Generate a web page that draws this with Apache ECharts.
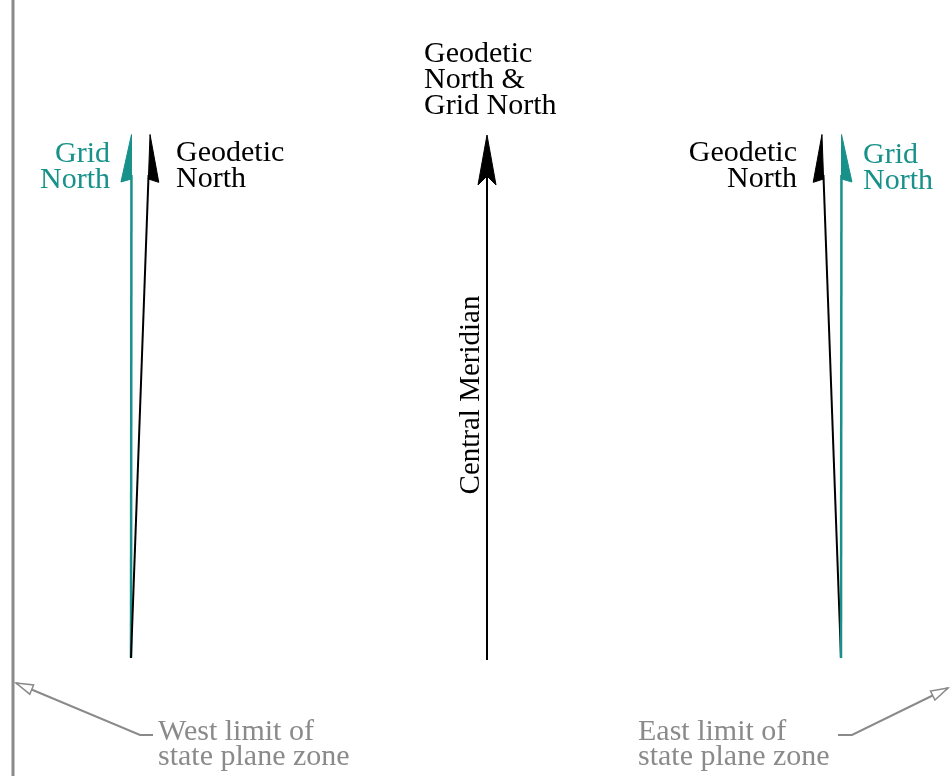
<!DOCTYPE html>
<html><head><meta charset="utf-8">
<script src="https://cdn.jsdelivr.net/npm/echarts@6/dist/echarts.min.js"></script>
<style>html,body{margin:0;padding:0;background:#fff}#c{width:950px;height:778px}</style>
</head><body><div id="c"></div>
<script>
// Diagram data (diagram units)
const arrowNames = ['Grid North (west)', 'Geodetic North (west)', 'Central Meridian', 'Geodetic North (east)', 'Grid North (east)'];
const arrowBaseX = [131, 131, 487, 841, 841];
const arrowBaseY = [658, 658, 660, 658, 658];
const arrowTipX = [131.5, 150, 487, 822, 841.5];
const arrowTipY = [135, 135, 135, 135, 135];
const arrowBarb = ['left', 'right', 'both', 'left', 'right'];

const labelTexts = ['Grid\nNorth', 'Geodetic\nNorth', 'Geodetic\nNorth &\nGrid North', 'Geodetic\nNorth', 'Grid\nNorth'];
const labelX = [110, 176, 424, 797, 863];
const labelY = [141, 140, 41, 140, 142];
const labelAlign = ['right', 'left', 'left', 'right', 'left'];

const meridianText = ['Central Meridian'];
const meridianX = [471];
const meridianY = [395];

const zoneTexts = ['West limit of\nstate plane zone', 'East limit of\nstate plane zone'];
const zoneTextX = [158, 638];
const zoneTextY = [720, 720];
const zoneLeaderX = [[153, 140, 16], [838, 852, 948]];
const zoneLeaderY = [[735, 735, 683], [735, 735, 688]];

const zoneBoundaryX = [13];
const zoneBoundaryY = [[0, 776]];

const TEAL = '#17918a';
const GRAY = '#8a8a8a';
const FONT = '"Liberation Serif", "Times New Roman", serif';

const chart = echarts.init(document.getElementById('c'), null, {renderer: 'canvas'});

function arrowItem(params, api) {
  const i = params.dataIndex;
  const b = api.coord([arrowBaseX[i], arrowBaseY[i]]);
  const t = api.coord([arrowTipX[i], arrowTipY[i]]);
  const dx = t[0] - b[0], dy = t[1] - b[1], L = Math.hypot(dx, dy);
  const ux = dx / L, uy = dy / L, nx = -uy, ny = ux;
  const color = arrowNames[i].startsWith('Grid') ? TEAL : '#000';
  const P = (a, s) => [t[0] - a * ux + s * nx, t[1] - a * uy + s * ny];
  let pts;
  if (arrowBarb[i] === 'both') pts = [t, P(50, 9), P(41, 0), P(50, -9)];
  else {
    const s = arrowBarb[i] === 'left' ? -1 : 1;
    pts = [P(-0.5, 0), P(47, s * 10.5), P(44, 0)];
  }
  return {
    type: 'group',
    children: [
      {type: 'line', shape: {x1: b[0], y1: b[1], x2: P(40, 0)[0], y2: P(40, 0)[1]},
        style: {stroke: color, lineWidth: arrowNames[i].startsWith('Grid') ? 2.5 : 2}},
      {type: 'polygon', shape: {points: pts}, style: {fill: color, stroke: color, lineWidth: 1}}
    ]
  };
}

function labelItem(params, api) {
  const i = params.dataIndex;
  const p = api.coord([labelX[i], labelY[i]]);
  const isGrid = labelTexts[i].startsWith('Grid');
  return {type: 'text', x: p[0], y: p[1],
    style: {text: labelTexts[i], font: '30px ' + FONT, fill: isGrid ? TEAL : '#000',
      align: labelAlign[i], verticalAlign: 'top', lineHeight: 26}};
}

function meridianItem(params, api) {
  const i = params.dataIndex;
  const p = api.coord([meridianX[i], meridianY[i]]);
  return {type: 'text', x: p[0], y: p[1], rotation: Math.PI / 2,
    style: {text: meridianText[i], font: '29px ' + FONT, fill: '#000', align: 'center', verticalAlign: 'middle'}};
}

function zoneItem(params, api) {
  const i = params.dataIndex;
  const p = api.coord([zoneTextX[i], zoneTextY[i]]);
  const pts = zoneLeaderX[i].map((x, k) => api.coord([x, zoneLeaderY[i][k]]));
  const t = pts[pts.length - 1], q = pts[pts.length - 2];
  const dx = q[0] - t[0], dy = q[1] - t[1], L = Math.hypot(dx, dy);
  const ux = dx / L, uy = dy / L, nx = -uy, ny = ux;
  const head = [t, [t[0] + 17 * ux + 5 * nx, t[1] + 17 * uy + 5 * ny], [t[0] + 17 * ux - 5 * nx, t[1] + 17 * uy - 5 * ny]];
  return {type: 'group', children: [
    {type: 'polyline', shape: {points: pts}, style: {stroke: GRAY, lineWidth: 2, fill: null}},
    {type: 'polygon', shape: {points: head}, style: {stroke: GRAY, fill: '#fff', lineWidth: 1.5}},
    {type: 'text', x: p[0], y: p[1], style: {text: zoneTexts[i], font: '30px ' + FONT, fill: GRAY,
      align: 'left', verticalAlign: 'top', lineHeight: 25}}
  ]};
}

function boundaryItem(params, api) {
  const i = params.dataIndex;
  const a = api.coord([zoneBoundaryX[i], zoneBoundaryY[i][0]]);
  const b = api.coord([zoneBoundaryX[i], zoneBoundaryY[i][1]]);
  return {type: 'line', shape: {x1: a[0], y1: a[1], x2: b[0], y2: b[1]}, style: {stroke: GRAY, lineWidth: 3}};
}

chart.setOption({
  animation: false,
  backgroundColor: '#fff',
  grid: {left: 0, right: 0, top: 0, bottom: 0},
  xAxis: {type: 'value', min: 0, max: 950, show: false},
  yAxis: {type: 'value', min: 0, max: 778, inverse: true, show: false},
  series: [
    {type: 'custom', renderItem: boundaryItem, data: zoneBoundaryX.map((x, i) => [x, zoneBoundaryY[i][0]]), clip: false, silent: true},
    {type: 'custom', renderItem: arrowItem, data: arrowBaseX.map((x, i) => [x, arrowBaseY[i]]), clip: false, silent: true},
    {type: 'custom', renderItem: labelItem, data: labelX.map((x, i) => [x, labelY[i]]), clip: false, silent: true},
    {type: 'custom', renderItem: meridianItem, data: meridianX.map((x, i) => [x, meridianY[i]]), clip: false, silent: true},
    {type: 'custom', renderItem: zoneItem, data: zoneTextX.map((x, i) => [x, zoneTextY[i]]), clip: false, silent: true}
  ]
});
</script></body></html>
